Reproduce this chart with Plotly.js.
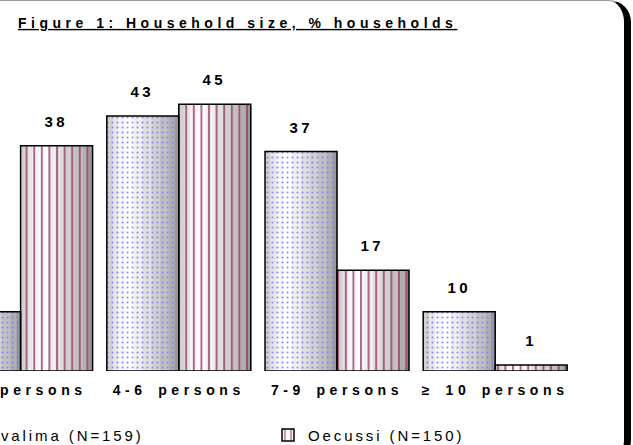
<!DOCTYPE html>
<html>
<head>
<meta charset="utf-8">
<script src="https://cdn.plot.ly/plotly-3.0.1.min.js"></script>
<style>
  html, body { margin: 0; padding: 0; background: #ffffff; overflow: hidden; }
  #frame {
    position: absolute; left: -40px; top: 0; width: 671px; height: 462px;
    box-sizing: border-box;
    border-top: 1px solid #9a9a9a; border-bottom: 1px solid #9a9a9a;
    border-right: 7px solid #000000;
    border-top-right-radius: 22px; border-bottom-right-radius: 22px;
  }
  #chart { position: absolute; left: 0; top: 0; width: 633px; height: 445px; }
  #chart .gtitle { letter-spacing: 4.5px; }
  #chart .xtick text { letter-spacing: 4.6px; word-spacing: 3px; }
  #chart .annotation-text { letter-spacing: 3.5px; }
</style>
</head>
<body>
<div id="frame"></div>
<div id="chart"></div>
<script>
// Household size distribution, % of households per district
const categories = ['1-3 persons', '4-6 persons', '7-9 persons', '\u2265 10 persons'];
const covalima = [10, 43, 37, 10];
const oecussi = [38, 45, 17, 1];
const seriesNames = ['Covalima (N=159)', 'Oecussi (N=150)'];

const FONT = 'Liberation Sans, Arial, sans-serif';
const BAR_W = 0.455;          // width of one cylinder, in category units

// vertical shading bands that give each bar its rounded, cylinder look
const shading = [
  [0.00, 0.08, '#d2d2d2'],
  [0.08, 0.16, '#e6e6e6'],
  [0.16, 0.26, '#f6f6f6'],
  [0.26, 0.38, '#ffffff'],
  [0.38, 0.50, '#efefef'],
  [0.50, 0.62, '#dfdfdf'],
  [0.62, 0.74, '#d0d0d0'],
  [0.74, 0.86, '#c0c0c0'],
  [0.86, 0.94, '#afafaf'],
  [0.94, 1.00, '#999999']
];

const series = [
  { name: seriesNames[0], values: covalima, base: -BAR_W, legend: 'legend',
    fg: '#8080ff', pattern: { shape: '.', size: 5, solidity: 0.14, fgopacity: 0.9 } },
  { name: seriesNames[1], values: oecussi, base: 0, legend: 'legend2',
    fg: '#993366', pattern: { shape: '|', size: 7.6, solidity: 0.26, fgopacity: 0.75 } }
];

const traces = [];
series.forEach(s => {
  shading.forEach(([f0, f1, col]) => {
    traces.push({
      type: 'bar', x: categories, y: s.values,
      width: BAR_W * (f1 - f0) + 0.003,
      offset: s.base + BAR_W * f0,
      marker: { color: col, line: { width: 0 } },
      showlegend: false, hoverinfo: 'skip'
    });
  });
});
series.forEach(s => {
  traces.push({
    type: 'bar', name: s.name, x: categories, y: s.values,
    width: BAR_W, offset: s.base, legend: s.legend,
    marker: {
      color: s.fg,
      pattern: Object.assign({ fillmode: 'replace', bgcolor: 'rgba(0,0,0,0)' }, s.pattern),
      line: { color: '#000000', width: 1.5 }
    },
    hoverinfo: 'x+y'
  });
});

// value labels above each bar
const annotations = [];
series.forEach(s => {
  s.values.forEach((v, j) => {
    annotations.push({
      x: j + s.base + BAR_W / 2, y: v, xref: 'x', yref: 'y',
      text: '<b>' + v + '</b>', showarrow: false,
      xanchor: 'center', yanchor: 'bottom', yshift: 14,
      font: { family: FONT, size: 15, color: '#000000' }
    });
  });
});

const legendStyle = {
  orientation: 'h', xanchor: 'left', y: -0.2, yanchor: 'middle',
  entrywidth: 260, entrywidthmode: 'pixels',
  font: { family: FONT, size: 15, color: '#000000' },
  bgcolor: 'rgba(0,0,0,0)', borderwidth: 0
};

const layout = {
  width: 633, height: 445,
  margin: { l: 0, r: 13, t: 50, b: 74, autoexpand: false },
  paper_bgcolor: 'rgba(0,0,0,0)', plot_bgcolor: 'rgba(0,0,0,0)',
  barmode: 'overlay',
  title: {
    text: '<b><u>Figure 1: Household size, % households</u></b>',
    x: 18 / 633, xanchor: 'left', xref: 'container',
    y: 1 - 23 / 445, yanchor: 'middle', yref: 'container',
    font: { family: FONT, size: 14, color: '#000000', weight: 'bold' }
  },
  xaxis: {
    type: 'category', range: [-0.1302, 3.789],
    showgrid: false, zeroline: false, showline: false, ticks: '',
    ticklabelstandoff: 9,
    tickfont: { family: FONT, size: 14, color: '#000000', weight: 'bold' },
    fixedrange: true
  },
  yaxis: {
    range: [0, 54.13], visible: false, showgrid: false, zeroline: false, fixedrange: true
  },
  showlegend: true,
  legend: Object.assign({ x: -64 / 620 }, legendStyle),
  legend2: Object.assign({ x: 268 / 620 }, legendStyle),
  annotations: annotations
};

Plotly.newPlot('chart', traces, layout, { displayModeBar: false, staticPlot: true })
  .then(gd => {
    // widen the legend lettering to the chart's spaced-out text style
    gd.querySelectorAll('g[class^="legend"] text').forEach(t => {
      t.style.letterSpacing = '2.9px';
    });
  });
</script>
</body>
</html>
